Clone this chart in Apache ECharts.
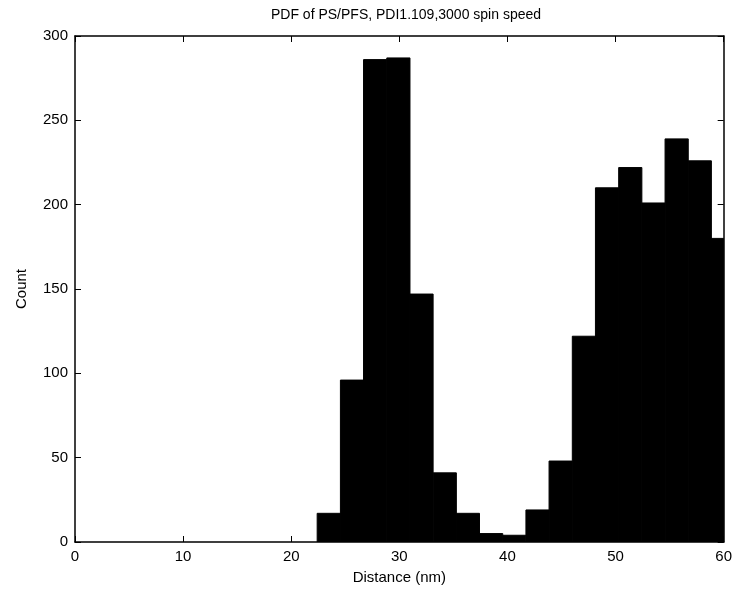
<!DOCTYPE html>
<html>
<head>
<meta charset="utf-8">
<script src="https://cdn.jsdelivr.net/npm/echarts@6/dist/echarts.min.js"></script>
<style>
  html, body { margin: 0; padding: 0; background: #fff; }
  #chart { width: 735px; height: 590px; }
</style>
</head>
<body>
<div id="chart"></div>
<script>
// histogram bins (nm) and counts
const binStart = [22.40, 24.55, 26.69, 28.84, 30.98, 33.13, 35.27, 37.42, 39.56,
  41.71, 43.85, 46.00, 48.14, 50.29, 52.43, 54.58, 56.72, 58.87]
const binWidth = 2.145
const counts = [17, 96, 286, 287, 147, 41, 17, 5, 4, 19, 48, 122, 210, 222, 201, 239, 226, 180]

const chart = echarts.init(document.getElementById('chart'))
const font = 'Liberation Sans, Arial, sans-serif'

const data = counts.map((c, i) => [binStart[i], binStart[i] + binWidth, c])

const axisCommon = () => ({
  axisLine: { show: true, onZero: false, lineStyle: { color: '#000', width: 1.5 } },
  axisTick: { show: true, inside: true, length: 6, lineStyle: { color: '#000', width: 1 } },
  splitLine: { show: false }
})
const labelStyle = { fontFamily: font, fontSize: 15, color: '#000', margin: 7 }

chart.setOption({
  animation: false,
  title: {
    text: 'PDF of PS/PFS, PDI1.109,3000 spin speed',
    left: 401, top: 3, textAlign: 'center',
    textStyle: { fontFamily: font, fontSize: 14, fontWeight: 'normal', color: '#000' }
  },
  grid: { left: 75, right: 9, top: 36, bottom: 44.5 },
  xAxis: [
    Object.assign({
      type: 'value', min: 0, max: 60, interval: 10,
      name: 'Distance (nm)', nameLocation: 'middle', nameGap: 28,
      nameTextStyle: { fontFamily: font, fontSize: 15, color: '#000' },
      axisLabel: labelStyle
    }, axisCommon()),
    Object.assign({
      type: 'value', min: 0, max: 60, interval: 10, position: 'top',
      axisLabel: { show: false }
    }, axisCommon())
  ],
  yAxis: [
    Object.assign({
      type: 'value', min: 0, max: 300, interval: 50,
      name: 'Count', nameLocation: 'middle', nameGap: 46,
      nameTextStyle: { fontFamily: font, fontSize: 15, color: '#000' },
      axisLabel: labelStyle
    }, axisCommon()),
    Object.assign({
      type: 'value', min: 0, max: 300, interval: 50, position: 'right',
      axisLabel: { show: false }
    }, axisCommon())
  ],
  series: [{
    type: 'custom',
    clip: true,
    xAxisIndex: 0,
    yAxisIndex: 0,
    data: data,
    renderItem: function (params, api) {
      const p0 = api.coord([api.value(0), 0])
      const p1 = api.coord([api.value(1), api.value(2)])
      const rect = echarts.graphic.clipRectByRect(
        { x: p0[0], y: p1[1], width: p1[0] - p0[0], height: p0[1] - p1[1] },
        { x: params.coordSys.x, y: params.coordSys.y, width: params.coordSys.width, height: params.coordSys.height }
      )
      return rect && {
        type: 'rect',
        shape: rect,
        style: { fill: '#000', stroke: '#000', lineWidth: 1 }
      }
    }
  }]
})
</script>
</body>
</html>
